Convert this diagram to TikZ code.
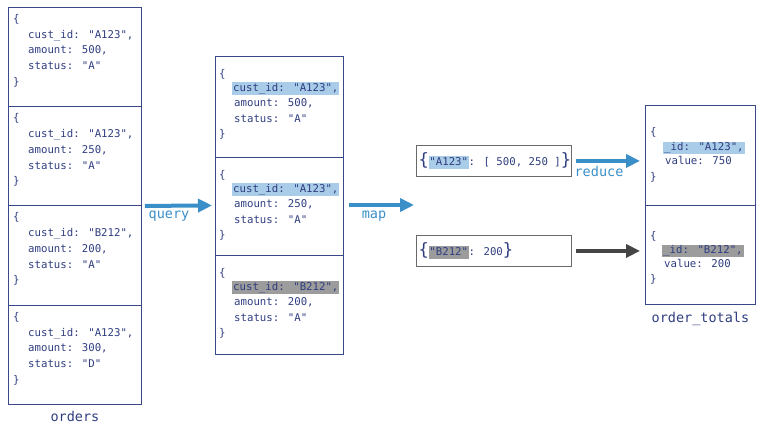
\documentclass[tikz,border=0pt]{standalone}
\usepackage{fontspec}
\usetikzlibrary{positioning, arrows.meta}
\newfontfamily\monofam{DejaVu Sans Mono}[Ligatures=TeXOff]

\definecolor{docnavy}{HTML}{2F3D80}
\definecolor{boxnavy}{HTML}{3A4788}
\definecolor{hlblue}{HTML}{A9CCE8}
\definecolor{hlgray}{HTML}{9C9C9C}
\definecolor{flowblue}{HTML}{3A8FC9}
\definecolor{flowdark}{HTML}{454545}
\definecolor{keygray}{HTML}{6A6A6A}

\newcommand\hlkey[2]{{\setlength\fboxsep{0.5pt}\colorbox{#1}{\strut #2}}}
\newcommand\bigbrace[1]{{\fontsize{17}{17}\selectfont #1}}

\tikzset{
  docbox/.style={draw=boxnavy, line width=0.9pt, anchor=north west, inner sep=0pt},
  divider/.style={draw=boxnavy, line width=0.9pt},
  doc/.style={anchor=west, text=docnavy, inner sep=1pt, text height=8pt, text depth=2.5pt,
    font=\monofam\fontsize{10.7}{12}\selectfont},
  keybox/.style={draw=keygray, line width=0.9pt, anchor=north west, minimum width=155pt,
    minimum height=31pt, inner sep=0pt},
  keytext/.style={anchor=west, text=docnavy, inner sep=0pt,
    font=\monofam\fontsize{10.7}{12}\selectfont},
  flow/.style={line width=4pt, flowblue, -{Triangle[length=14pt,width=13pt]}},
  flowdk/.style={flow, flowdark},
  stage/.style={text=flowblue, font=\monofam\fontsize{13.5}{15}\selectfont, inner sep=0pt},
  coll/.style={text=docnavy, font=\monofam\fontsize{13.5}{15}\selectfont, inner sep=0pt},
}

\begin{document}
\begin{tikzpicture}[x=1pt, y=-1pt]
  \useasboundingbox (0,0) rectangle (761,428);

  % orders collection
  \node[docbox, minimum width=133pt, minimum height=397pt] (orders) at (8,7) {};
  \draw[divider] (8,106.3) -- (141,106.3);
  \draw[divider] (8,205.6) -- (141,205.6);
  \draw[divider] (8,305) -- (141,305);
  \foreach \t/\id/\amt/\st [count=\i] in {7/A123/500/A, 106.3/A123/250/A, 205.6/B212/200/A, 305/A123/300/D} {
    \node[doc] (o\i a) at (12,{\t+12.5}) {\{};
    \node[doc] (o\i b) at (27,{\t+28.5}) {cust\_id: "\id",};
    \node[doc] (o\i c) at (27,{\t+44}) {amount: \amt,};
    \node[doc] (o\i d) at (27,{\t+60}) {status: "\st"};
    \node[doc] (o\i e) at (12,{\t+75.5}) {\}};
  }
  \node[coll, below=6pt of orders] (ordersname) {orders};

  % after query
  \node[docbox, minimum width=128pt, minimum height=298pt] (queried) at (215,56) {};
  \draw[divider] (215,157) -- (343,157);
  \draw[divider] (215,255) -- (343,255);
  \foreach \t/\id/\amt/\hl [count=\i] in {56/A123/500/hlblue, 157/A123/250/hlblue, 255/B212/200/hlgray} {
    \node[doc] (q\i a) at (218,{\t+18.5}) {\{};
    \node[doc, fill=\hl] (q\i b) at (232,{\t+32.5}) {cust\_id: "\id",};
    \node[doc] (q\i c) at (233,{\t+48}) {amount: \amt,};
    \node[doc] (q\i d) at (233,{\t+63.5}) {status: "A"};
    \node[doc] (q\i e) at (218,{\t+78.5}) {\}};
  }

  % after map
  \node[keybox] (keyA) at (416,145) {};
  \node[keytext] (keyAtext) at ([xshift=2.5pt]keyA.west) {\bigbrace{\{}\hlkey{hlblue}{"A123"}: [ 500, 250 ]\bigbrace{\}}};
  \node[keybox] (keyB) at (416,235) {};
  \node[keytext] (keyBtext) at ([xshift=2.5pt]keyB.west) {\bigbrace{\{}\hlkey{hlgray}{"B212"}: 200\bigbrace{\}}};
  \coordinate (mapend) at (414,205);

  % order_totals collection
  \node[docbox, minimum width=110pt, minimum height=199pt] (totals) at (645,105) {};
  \draw[divider] (645,205) -- (755,205);
  \node[doc] (t1a) at (649,133) {\{};
  \node[doc, fill=hlblue] (t1b) at (663,148) {\_id: "A123",};
  \node[doc] (t1c) at (664,162) {value: 750};
  \node[doc] (t1d) at (649,178) {\}};
  \node[doc] (t2a) at (649,237) {\{};
  \node[doc, fill=hlgray] (t2b) at (662,251) {\_id: "B212",};
  \node[doc] (t2c) at (663,265) {value: 200};
  \node[doc] (t2d) at (649,280) {\}};
  \node[coll, below=7pt of totals] (totalsname) {order\_totals};

  % stages
  \draw[flow, shorten <=3pt, shorten >=3pt] (orders.east) -- (queried.west);
  \draw[flow, shorten <=5pt] (queried.east |- mapend) -- (mapend);
  \draw[flow, shorten <=4pt, shorten >=5pt] (keyA.east) -- (keyA.east -| totals.west);
  \draw[flowdk, shorten <=4pt, shorten >=5pt] (keyB.east) -- (keyB.east -| totals.west);
  \node[stage] (querylbl) at (169,216) {query};
  \node[stage] (maplbl) at (374,216) {map};
  \node[stage] (reducelbl) at (599,171) {reduce};
\end{tikzpicture}
\end{document}
